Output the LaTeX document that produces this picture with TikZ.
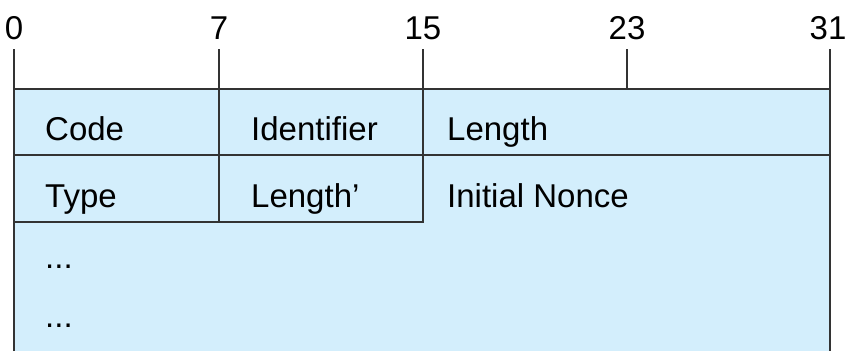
\documentclass[tikz,border=0pt]{standalone}
\usepackage{fontspec}
\setmainfont{Liberation Sans}
\definecolor{fieldblue}{HTML}{D3EEFC}
\definecolor{rulegray}{HTML}{333333}
\begin{document}
\begin{tikzpicture}[x=1pt,y=-1pt,
  rule/.style={rulegray, line width=1.4pt},
  field/.style={anchor=base west, inner sep=0pt, font=\fontsize{33}{36}\selectfont},
  bitnum/.style={anchor=base, inner sep=0pt, font=\fontsize{33}{36}\selectfont}]
\useasboundingbox (0,0) rectangle (846,351);
% bit positions above the header
\foreach \b/\x in {0/14,7/219,15/423,23/627,31/830} {
  \draw[rule] (\x,49) -- (\x,89);
}
\foreach \b/\x in {0/14,7/219,15/423,23/627,31/828} {
  \node[bitnum] (bit\b) at (\x,39) {\b};
}
% header body
\fill[fieldblue] (14,89) rectangle (830,351);
\draw[rule] (14,351) -- (14,89) -- (830,89) -- (830,351);
\draw[rule] (14,155) -- (830,155);
\draw[rule] (14,222) -- (423,222) -- (423,89);
\draw[rule] (219,89) -- (219,222);
% field names
\node[field] (code) at (45,140) {Code};
\node[field] (ident) at (251,140) {Identifier};
\node[field] (len) at (447,140) {Length};
\node[field] (type) at (45,207) {Type};
\node[field] (lenb) at (251,207) {Length’};
\node[field] (nonce) at (447,207) {Initial Nonce};
\node[field] (dotsa) at (45,268) {...};
\node[field] (dotsb) at (45,327) {...};
\end{tikzpicture}
\end{document}
